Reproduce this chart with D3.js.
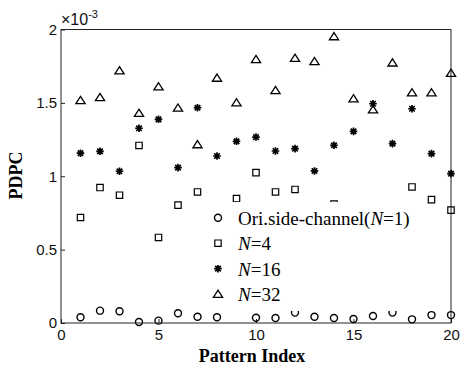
<!DOCTYPE html>
<html>
<head>
<meta charset="utf-8">
<title>PDPC vs Pattern Index</title>
<script src="https://d3js.org/d3.v7.min.js"></script>
<style>
    body { margin: 0; background: #fff; }
    .tick text { font-family: "Liberation Sans", Arial, sans-serif; font-size: 15px; fill: #111; }
    .tick line { stroke: #222; }
</style>
</head>
<body>
<div id="chart"></div>
<script>
// data (values in units of 1e-3)
var patternIdx = d3.range(1, 21);
var oriSide = [0.039, 0.084, 0.080, 0.007, 0.016, 0.066, 0.043, 0.039, null, 0.036,
               0.034, 0.071, 0.043, 0.034, 0.027, 0.048, 0.071, 0.025, 0.054, 0.054];
var n4 = [0.719, 0.923, 0.871, 1.21, 0.583, 0.803, 0.893, 0.62, 0.848, 1.025,
          0.893, 0.91, 0.76, 0.81, 0.74, 0.68, 0.72, 0.927, 0.841, 0.769];
var n16 = [1.157, 1.17, 1.034, 1.327, 1.388, 1.059, 1.467, 1.138, 1.238, 1.267,
           1.172, 1.188, 1.036, 1.211, 1.306, 1.494, 1.222, 1.46, 1.154, 1.018];
var n32 = [1.517, 1.537, 1.72, 1.43, 1.61, 1.465, 1.216, 1.669, 1.501, 1.796,
           1.585, 1.805, 1.782, 1.952, 1.529, 1.454, 1.773, 1.569, 1.569, 1.703];
var xTicks = [0, 5, 10, 15, 20];
var yTicks = [0, 0.5, 1, 1.5, 2];

var W = 460, H = 365;
var margin = { left: 61, right: 451, top: 29.5, bottom: 323 };

var svg = d3.select("#chart").append("svg")
    .attr("width", W)
    .attr("height", H);

var x = d3.scaleLinear().domain([0, 20]).range([margin.left, margin.right]);
var y = d3.scaleLinear().domain([0, 2]).range([margin.bottom, margin.top]);

// axes (ticks point inward)
svg.append("g")
    .attr("transform", "translate(0," + margin.bottom + ")")
    .call(d3.axisBottom(x).tickValues(xTicks).tickSize(-4).tickPadding(6)
        .tickFormat(d3.format("d")))
    .call(function (g) { g.select(".domain").remove(); });

svg.append("g")
    .attr("transform", "translate(" + margin.left + ",0)")
    .call(d3.axisLeft(y).tickValues(yTicks).tickSize(-4).tickPadding(4)
        .tickFormat(function (d) { return d; }))
    .call(function (g) { g.select(".domain").remove(); });

// frame
svg.append("rect")
    .attr("x", margin.left).attr("y", margin.top)
    .attr("width", margin.right - margin.left).attr("height", margin.bottom - margin.top)
    .attr("fill", "none").attr("stroke", "#222").attr("stroke-width", 1);

// exponent label
var expo = svg.append("text")
    .attr("x", 61).attr("y", 24.5)
    .style("font-family", "Liberation Sans, Arial, sans-serif")
    .style("font-size", "16px")
    .attr("fill", "#111");
expo.append("tspan").text("\u00d710");
expo.append("tspan").attr("dy", -7).style("font-size", "11px").text("-3");

// marker shapes
function circlePath(s) { return d3.symbol().type(d3.symbolCircle).size(Math.PI * s * s)(); }
function squarePath(s) { return "M" + (-s) + "," + (-s) + "h" + (2 * s) + "v" + (2 * s) + "h" + (-2 * s) + "Z"; }
function trianglePath(s) { return "M0," + (-s) + "L" + (s * 1.15) + "," + (s * 0.8) + "L" + (-s * 1.15) + "," + (s * 0.8) + "Z"; }
function starPath(s) {
    var d = s * 0.72;
    return "M0," + (-s) + "V" + s + "M" + (-s) + ",0H" + s +
        "M" + (-d) + "," + (-d) + "L" + d + "," + d + "M" + (-d) + "," + d + "L" + d + "," + (-d);
}

var series = [
    { name: "ori", values: oriSide, path: circlePath(3.5), sw: 1.4 },
    { name: "n4", values: n4, path: squarePath(3.2), sw: 1.2 },
    { name: "n16", values: n16, path: starPath(3.8), sw: 1.7 },
    { name: "n32", values: n32, path: trianglePath(4), sw: 1.3 }
];

series.forEach(function (s) {
    svg.append("g").selectAll("path")
        .data(patternIdx.map(function (p, i) { return { p: p, v: s.values[i] }; })
            .filter(function (d) { return d.v != null; }))
        .enter().append("path")
        .attr("d", s.path)
        .attr("transform", function (d) { return "translate(" + x(d.p) + "," + y(d.v) + ")"; })
        .attr("fill", "none")
        .attr("stroke", "#000")
        .attr("stroke-width", s.sw);
});

// legend (white background, no border)
var leg = svg.append("g");
leg.append("rect")
    .attr("x", 205).attr("y", 202)
    .attr("width", 215).attr("height", 109)
    .attr("fill", "#fff");

var legendItems = [
    { pre: "Ori.side-channel(", it: "N", post: "=1)" },
    { pre: "", it: "N", post: "=4" },
    { pre: "", it: "N", post: "=16" },
    { pre: "", it: "N", post: "=32" }
];

legendItems.forEach(function (item, i) {
    var ry = 217.7 + i * 25.5;
    var s = series[i];
    leg.append("path")
        .attr("d", s.path)
        .attr("transform", "translate(218," + ry + ")")
        .attr("fill", "none").attr("stroke", "#000").attr("stroke-width", s.sw);
    var t = leg.append("text")
        .attr("x", 238).attr("y", ry + 7)
        .style("font-family", "Liberation Serif, Times New Roman, serif")
        .style("font-size", "19px")
        .attr("fill", "#000");
    if (item.pre) t.append("tspan").text(item.pre);
    t.append("tspan").style("font-style", "italic").text(item.it);
    t.append("tspan").text(item.post);
});

// axis titles
svg.append("text")
    .attr("x", 252).attr("y", 362)
    .attr("text-anchor", "middle")
    .style("font-family", "Liberation Serif, Times New Roman, serif")
    .style("font-size", "18px")
    .style("font-weight", "bold")
    .text("Pattern Index");

svg.append("text")
    .attr("transform", "translate(22,175.5) rotate(-90)")
    .attr("text-anchor", "middle")
    .style("font-family", "Liberation Serif, Times New Roman, serif")
    .style("font-size", "18px")
    .style("font-weight", "bold")
    .text("PDPC");
</script>
</body>
</html>
